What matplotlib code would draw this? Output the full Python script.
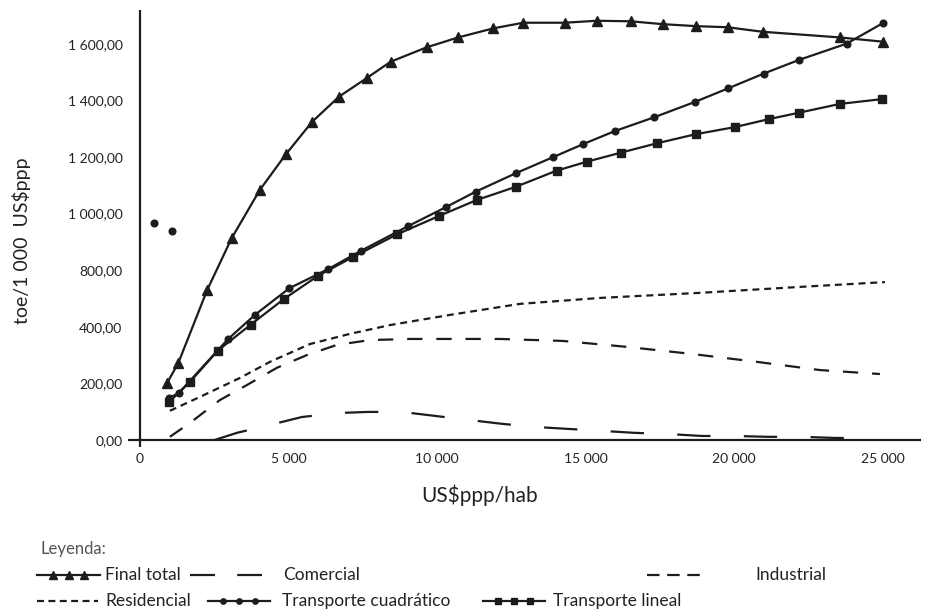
import matplotlib
matplotlib.use('Agg')
import matplotlib.pyplot as plt
from matplotlib import font_manager
from matplotlib.lines import Line2D

names = {f.name for f in font_manager.fontManager.ttflist}
main_font = 'Lato' if 'Lato' in names else 'DejaVu Sans'
plt.rcParams['font.family'] = [main_font, 'DejaVu Sans']
plt.rcParams['lines.scale_dashes'] = False

INK = '#1c1c1c'

# Data (y in axis units; the axis labels are the ones printed on the original)
final_x = [919, 1290, 2266, 3088, 4040, 4916, 5801, 6710, 7633, 8441, 9653, 10717,
           11896, 12906, 14310, 15377, 16532, 17599, 18721, 19788, 20966, 23569, 25007]
final_y = [202, 271, 530, 713, 884, 1010, 1125, 1214, 1279, 1337, 1388, 1423,
           1455, 1475, 1475, 1482, 1480, 1470, 1463, 1459, 1443, 1423, 1408]

cuad_x = [976, 1313, 2963, 3872, 5027, 6340, 7431, 9034, 10303, 11313, 12660, 13896,
          14906, 15993, 17323, 18687, 19808, 21000, 22178, 23795, 25007]
cuad_y = [148, 166, 356, 442, 536, 604, 668, 756, 823, 878, 943, 999,
          1045, 1092, 1141, 1195, 1243, 1295, 1343, 1401, 1473]

lineal_x = [987, 1694, 2626, 3737, 4848, 5993, 7162, 8663, 10077, 11337, 12660, 14030,
            15061, 16205, 17418, 18721, 20034, 21168, 22199, 23569, 24993]
lineal_y = [134, 206, 316, 408, 498, 580, 646, 727, 792, 848, 895, 952,
            984, 1016, 1049, 1081, 1106, 1134, 1157, 1188, 1205]

outlier_x = [471, 1067]
outlier_y = [768, 740]

resid_x = [1010, 2020, 3367, 4377, 5724, 7071, 8418, 10438, 12795, 15488, 18855, 22222, 25084]
resid_y = [103, 152, 219, 276, 339, 375, 406, 442, 481, 502, 520, 541, 558]

indus_x = [1010, 1684, 2694, 3603, 4613, 5623, 6633, 7744, 9091, 10438, 12121, 14242,
           16397, 18586, 20774, 22896, 24916]
indus_y = [11, 60, 141, 194, 255, 300, 336, 353, 357, 357, 357, 350,
           329, 304, 276, 247, 233]

comer_x = [2525, 3266, 4377, 5455, 6633, 7677, 8822, 9933, 11044, 12189, 13300, 14411,
           15556, 16667, 17778, 18923, 20034, 21145, 22290, 23401, 24815]
comer_y = [0, 25, 53, 81, 95, 99, 99, 85, 71, 57, 46, 39,
           32, 25, 21, 14, 14, 11, 11, 7, 7]

x_ticks = [0, 5000, 10000, 15000, 20000, 25000]
x_labels = ['0', '5 000', '10 000', '15 000', '20 000', '25 000']
y_ticks = [0, 200, 400, 600, 800, 1000, 1200, 1400]
y_labels = ['0,00', '200,00', '400,00', '800,00', '1 000,00', '1 200,00', '1 400,00', '1 600,00']

W, H = 929, 615
fig = plt.figure(figsize=(W / 100, H / 100), dpi=100)
ax = fig.add_axes([128 / W, 1 - 447 / H, (921 - 128) / W, (447 - 10) / H])
ax.set_xlim(-400, 26300)
ax.set_ylim(-25, 1520)
for s in ax.spines.values():
    s.set_visible(False)
ax.axhline(0, color=INK, lw=1.6, zorder=1)
ax.axvline(0, color=INK, lw=1.6, zorder=1)

lw = 1.6
styles = {
    'final': dict(marker='^', ms=7.5),
    'cuad': dict(marker='o', ms=4.8),
    'lineal': dict(marker='s', ms=5.2),
    'resid': dict(dashes=(5, 3.5)),
    'indus': dict(dashes=(11, 10)),
    'comer': dict(dashes=(24, 24)),
}
ax.plot(resid_x, resid_y, color=INK, lw=lw, **styles['resid'])
ax.plot(indus_x, indus_y, color=INK, lw=lw, **styles['indus'])
ax.plot(comer_x, comer_y, color=INK, lw=lw, **styles['comer'])
ax.plot(final_x, final_y, color=INK, lw=lw, **styles['final'])
ax.plot(lineal_x, lineal_y, color=INK, lw=lw, **styles['lineal'])
ax.plot(cuad_x, cuad_y, color=INK, lw=lw, **styles['cuad'])
ax.plot(outlier_x, outlier_y, ls='none', color=INK, **styles['cuad'])

ax.set_xticks(x_ticks)
ax.set_xticklabels(x_labels)
ax.set_yticks(y_ticks)
ax.set_yticklabels(y_labels)
ax.tick_params(length=0, labelsize=10, colors='#222222')
ax.tick_params(axis='x', pad=4)
ax.tick_params(axis='y', pad=4)

fig.text(22 / W, 1 - 241 / H, 'toe/1 000  US\\$ppp', rotation=90, ha='center', va='center',
         fontsize=14, color='#222222')
fig.text(480 / W, 1 - 495 / H, 'US\\$ppp/hab', ha='center', va='center', fontsize=15, color='#222222')

# legend drawn by hand to keep the original's uneven layout
fig.text(40 / W, 1 - 549 / H, 'Leyenda:', ha='left', va='center', fontsize=12,
         color='#555555')


def fig_xy(px, py):
    return px / W, 1 - py / H


def legend_entry(x0, x1, xt, y, label, style, n_marks=0):
    xs = [x0 + (x1 - x0) * k / (n_marks + 1) for k in range(n_marks + 2)]
    fx = [fig_xy(v, y)[0] for v in xs]
    fy = [fig_xy(0, y)[1]] * len(xs)
    st = dict(style)
    if 'marker' in st:
        st['markevery'] = list(range(1, n_marks + 1))
        st['ms'] = st['ms'] * 0.8
    fig.add_artist(Line2D(fx, fy, transform=fig.transFigure, color=INK, lw=lw, **st))
    fig.text(xt / W, 1 - y / H, label, ha='left', va='center', fontsize=12.5,
             color='#222222')


legend_entry(37, 100, 105, 575, 'Final total', styles['final'], 3)
legend_entry(190, 262, 283, 575, 'Comercial', dict(dashes=(18, 16)))
legend_entry(647, 700, 755, 575, 'Industrial', dict(dashes=(9, 5.5)))
legend_entry(37, 98, 105, 601, 'Residencial', dict(dashes=(5, 3.2)))
legend_entry(208, 270, 282, 601, 'Transporte cuadrático', styles['cuad'], 3)
legend_entry(483, 545, 553, 601, 'Transporte lineal', styles['lineal'], 3)

fig.savefig('out.png', dpi=100)
